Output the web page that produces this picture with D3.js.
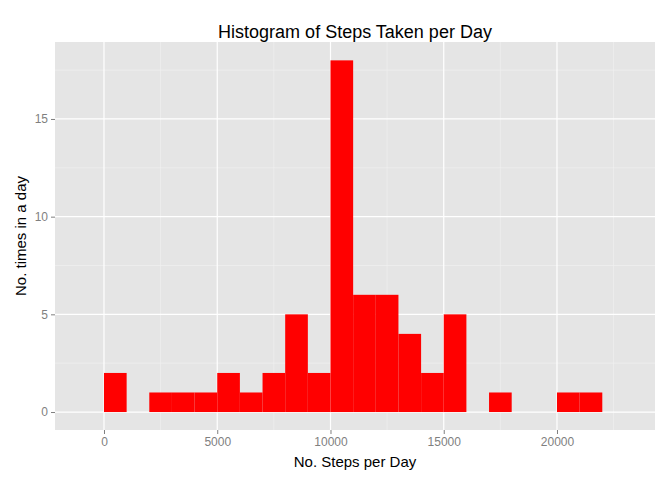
<!DOCTYPE html>
<html><head><meta charset="utf-8">
<script src="https://cdn.jsdelivr.net/npm/d3@7"></script>
<style>body{margin:0;background:#fff}text{font-family:"Liberation Sans",Arial,sans-serif}</style>
</head><body>
<svg id="c" width="672" height="480"></svg>
<script>
const binStarts = [0,1000,2000,3000,4000,5000,6000,7000,8000,9000,10000,11000,12000,13000,14000,15000,16000,17000,18000,19000,20000,21000];
const counts    = [2,0,1,1,1,2,1,2,5,2,18,6,6,4,2,5,0,1,0,0,1,1];
const binWidth = 1000;
const xTicks = [0,5000,10000,15000,20000];
const yTicks = [0,5,10,15];

const svg = d3.select("#c");
const L=55,R=655,T=42,B=430;
const x = d3.scaleLinear().domain([-2163,24327]).range([L,R]);
const y = d3.scaleLinear().domain([-0.92,18.94]).range([B,T]);

svg.append("rect").attr("x",L).attr("y",T).attr("width",R-L).attr("height",B-T).attr("fill","#e5e5e5");
const xMinor = [-2500,2500,7500,12500,17500,22500], yMinor=[2.5,7.5,12.5,17.5];
const g = svg.append("g");
xMinor.forEach(v=>{ if(x(v)>L&&x(v)<R) g.append("line").attr("x1",x(v)).attr("x2",x(v)).attr("y1",T).attr("y2",B).attr("stroke","#f2f2f2").attr("stroke-width",0.6);});
yMinor.forEach(v=>g.append("line").attr("x1",L).attr("x2",R).attr("y1",y(v)).attr("y2",y(v)).attr("stroke","#f2f2f2").attr("stroke-width",0.6));
xTicks.forEach(v=>g.append("line").attr("x1",x(v)).attr("x2",x(v)).attr("y1",T).attr("y2",B).attr("stroke","#fff").attr("stroke-width",1.2));
yTicks.forEach(v=>g.append("line").attr("x1",L).attr("x2",R).attr("y1",y(v)).attr("y2",y(v)).attr("stroke","#fff").attr("stroke-width",1.2));

svg.selectAll("rect.bar").data(binStarts.map((s,i)=>({s,c:counts[i]})).filter(d=>d.c>0)).enter()
 .append("rect").attr("class","bar")
 .attr("x",d=>x(d.s)).attr("width",d=>x(d.s+binWidth)-x(d.s))
 .attr("y",d=>y(d.c)).attr("height",d=>y(0)-y(d.c)).attr("fill","#ff0000");

const xa = svg.append("g").attr("transform",`translate(0,${B})`).call(d3.axisBottom(x).tickValues(xTicks).tickSize(4).tickPadding(3).tickFormat(d3.format("d")));
const ya = svg.append("g").attr("transform",`translate(${L},0)`).call(d3.axisLeft(y).tickValues(yTicks).tickSize(4).tickPadding(3));
[xa,ya].forEach(a=>{a.select(".domain").remove();a.selectAll("line").attr("stroke","#7f7f7f");a.selectAll("text").attr("fill","#7f7f7f").style("font-size","12px");});

svg.append("text").attr("x",(L+R)/2).attr("y",38).attr("text-anchor","middle").style("font-size","18px").text("Histogram of Steps Taken per Day");
svg.append("text").attr("x",(L+R)/2).attr("y",467).attr("text-anchor","middle").style("font-size","15px").text("No. Steps per Day");
svg.append("text").attr("transform",`translate(26,${(T+B)/2}) rotate(-90)`).attr("text-anchor","middle").style("font-size","15px").text("No. times in a day");
</script>
</body></html>
